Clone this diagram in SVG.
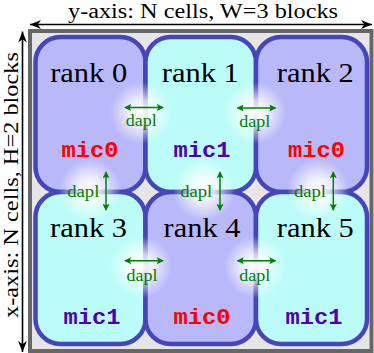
<svg xmlns="http://www.w3.org/2000/svg" width="374" height="353" viewBox="0 0 374 353">
<defs>
<style>
.cellA{fill:#b9b9f9;stroke:#4646b8;stroke-width:4.5}
.cellB{fill:#bcfcf8;stroke:#4646b8;stroke-width:4.5}
.rank{font-family:"Liberation Serif",serif;font-size:28px;fill:#000;text-anchor:middle}
.mic{font-family:"Liberation Mono",monospace;font-size:22px;font-weight:bold;text-anchor:middle}
.m0{fill:#ff0000}
.m1{fill:#5000b0}
.dapl{font-family:"Liberation Serif",serif;font-size:16px;fill:#008000;text-anchor:middle}
.axis{font-family:"Liberation Serif",serif;font-size:20px;fill:#000;text-anchor:middle}
.darr{stroke:#008000;stroke-width:1.5;fill:none;marker-start:url(#gh);marker-end:url(#gh)}
.aarr{stroke:#000;stroke-width:1.6;fill:none;marker-start:url(#bh);marker-end:url(#bh)}
</style>
<marker id="gh" viewBox="0 0 8 8" refX="7" refY="4" markerWidth="7" markerHeight="7" markerUnits="userSpaceOnUse" orient="auto-start-reverse">
<path d="M0,0 L8,4 L0,8 L1.5,4 Z" fill="#008000"/>
</marker>
<marker id="bh" viewBox="0 0 10 8" refX="10" refY="4" markerWidth="11" markerHeight="9" markerUnits="userSpaceOnUse" orient="auto-start-reverse">
<path d="M0,0 L10,4 L0,8 L3,4 Z" fill="#000"/>
</marker>
<radialGradient id="glow">
<stop offset="0" stop-color="#fff" stop-opacity="1"/>
<stop offset="0.4" stop-color="#fff" stop-opacity="0.75"/>
<stop offset="1" stop-color="#fff" stop-opacity="0"/>
</radialGradient>
</defs>

<rect id="frame" x="30" y="31" width="341.5" height="320" fill="#e6e6e6" stroke="#666" stroke-width="4"/>

<g id="cells">
<g id="rank0"><rect class="cellA" x="35.5" y="37" width="110" height="155" rx="25"/></g>
<g id="rank1"><rect class="cellB" x="145.5" y="37" width="110.5" height="155" rx="25"/></g>
<g id="rank2"><rect class="cellA" x="256" y="37" width="111" height="155" rx="25"/></g>
<g id="rank3"><rect class="cellB" x="35.5" y="192" width="110" height="152" rx="25"/></g>
<g id="rank4"><rect class="cellA" x="145.5" y="192" width="110.5" height="152" rx="25"/></g>
<g id="rank5"><rect class="cellB" x="256" y="192" width="111" height="152" rx="25"/></g>
</g>

<g id="glows">
<circle cx="141" cy="113" r="31" fill="url(#glow)"/>
<circle cx="255" cy="113" r="31" fill="url(#glow)"/>
<circle cx="141" cy="267" r="31" fill="url(#glow)"/>
<circle cx="255" cy="267" r="31" fill="url(#glow)"/>
<circle cx="90" cy="190" r="31" fill="url(#glow)"/>
<circle cx="204" cy="190" r="31" fill="url(#glow)"/>
<circle cx="318" cy="190" r="31" fill="url(#glow)"/>
</g>

<g id="labels">
<text class="rank" x="88.7" y="82" textLength="77" lengthAdjust="spacingAndGlyphs">rank 0</text>
<text class="rank" x="200.3" y="82" textLength="77" lengthAdjust="spacingAndGlyphs">rank 1</text>
<text class="rank" x="315.3" y="82" textLength="77" lengthAdjust="spacingAndGlyphs">rank 2</text>
<text class="rank" x="88.5" y="236.7" textLength="77" lengthAdjust="spacingAndGlyphs">rank 3</text>
<text class="rank" x="202" y="236.7" textLength="77" lengthAdjust="spacingAndGlyphs">rank 4</text>
<text class="rank" x="315.3" y="236.7" textLength="77" lengthAdjust="spacingAndGlyphs">rank 5</text>
<text class="mic m0" x="90" y="157" textLength="57" lengthAdjust="spacingAndGlyphs">mic0</text>
<text class="mic m1" x="202" y="157" textLength="57" lengthAdjust="spacingAndGlyphs">mic1</text>
<text class="mic m0" x="316.5" y="157" textLength="57" lengthAdjust="spacingAndGlyphs">mic0</text>
<text class="mic m1" x="92" y="324.3" textLength="57" lengthAdjust="spacingAndGlyphs">mic1</text>
<text class="mic m0" x="202" y="324.3" textLength="57" lengthAdjust="spacingAndGlyphs">mic0</text>
<text class="mic m1" x="314" y="324.3" textLength="57" lengthAdjust="spacingAndGlyphs">mic1</text>
</g>

<g id="connectors">
<line class="darr" x1="125" y1="107.5" x2="163" y2="107.5"/>
<line class="darr" x1="237.5" y1="108" x2="275.5" y2="108"/>
<line class="darr" x1="125" y1="260.7" x2="163" y2="260.7"/>
<line class="darr" x1="237.5" y1="260.7" x2="275.5" y2="260.7"/>
<line class="darr" x1="106" y1="172" x2="106" y2="210"/>
<line class="darr" x1="220" y1="172" x2="220" y2="210"/>
<line class="darr" x1="333.3" y1="172" x2="333.3" y2="210"/>
<text class="dapl" x="141.2" y="126" textLength="31" lengthAdjust="spacingAndGlyphs">dapl</text>
<text class="dapl" x="254.8" y="126.7" textLength="31" lengthAdjust="spacingAndGlyphs">dapl</text>
<text class="dapl" x="142" y="280.7" textLength="31" lengthAdjust="spacingAndGlyphs">dapl</text>
<text class="dapl" x="254.8" y="280.7" textLength="31" lengthAdjust="spacingAndGlyphs">dapl</text>
<text class="dapl" x="83.3" y="196.7" textLength="32" lengthAdjust="spacingAndGlyphs">dapl</text>
<text class="dapl" x="196.2" y="196.7" textLength="32" lengthAdjust="spacingAndGlyphs">dapl</text>
<text class="dapl" x="310" y="196.7" textLength="32" lengthAdjust="spacingAndGlyphs">dapl</text>
</g>

<g id="axes">
<line class="aarr" x1="30" y1="24.5" x2="372" y2="24.5"/>
<line class="aarr" x1="22.5" y1="31.5" x2="22.5" y2="352"/>
<text class="axis" x="203" y="17.5" textLength="270" lengthAdjust="spacingAndGlyphs">y-axis: N cells, W=3 blocks</text>
<text class="axis" transform="translate(17.8,185) rotate(-90)" x="0" y="0" textLength="266" lengthAdjust="spacingAndGlyphs">x-axis: N cells, H=2 blocks</text>
</g>
</svg>
